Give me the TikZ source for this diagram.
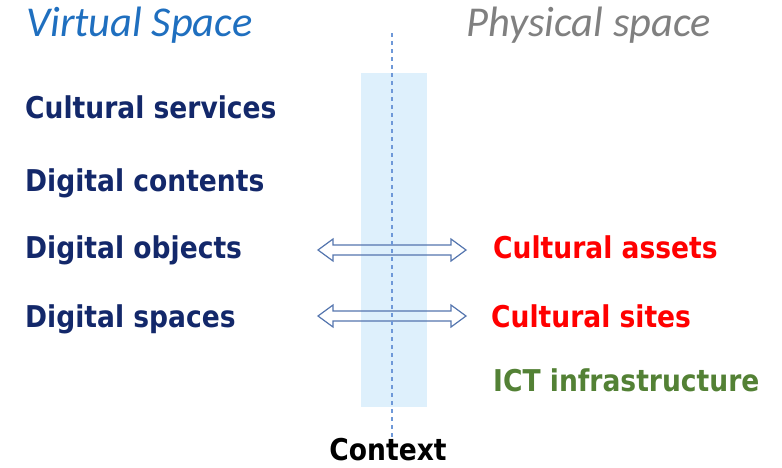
\documentclass[tikz,border=0pt]{standalone}
\usepackage{fontspec}
\setmainfont{Carlito}
\newfontfamily\labfont[FakeStretch=0.885]{DejaVu Sans}
\definecolor{titleblue}{HTML}{1F6FBF}
\definecolor{titlegray}{HTML}{808080}
\definecolor{navy}{HTML}{13286A}
\definecolor{redlab}{HTML}{FF0000}
\definecolor{greenlab}{HTML}{538135}
\definecolor{ctxfill}{HTML}{DEF0FC}
\definecolor{dashblue}{HTML}{6E98D8}
\definecolor{arrowblue}{HTML}{5475AE}
\tikzset{
  x=1pt, y=-1pt,
  title/.style={anchor=base west, inner sep=0pt, font=\fontsize{42.5}{42.5}\selectfont\itshape},
  lab/.style={anchor=base west, inner sep=0pt, font=\labfont\bfseries\fontsize{30}{30}\selectfont},
  dblarrow/.style={draw=arrowblue, line width=1.2pt, line join=miter},
}
\begin{document}
\begin{tikzpicture}
\useasboundingbox (0,0) rectangle (782,467);
% context band
\fill[ctxfill] (361,73) rectangle (427,407);
% titles
\node[title, text=titleblue] (virt) at (26,36) {Virtual Space};
\node[title, text=titlegray] (phys) at (466,36) {Physical space};
% left labels
\node[lab, text=navy] (serv) at (25,118.5) {Cultural services};
\node[lab, text=navy] (cont) at (25,191.5) {Digital contents};
\node[lab, text=navy] (obj) at (25,258) {Digital objects};
\node[lab, text=navy] (spc) at (25,327) {Digital spaces};
% right labels
\node[lab, text=redlab] (assets) at (493,258) {Cultural assets};
\node[lab, text=redlab] (sites) at (491,327) {Cultural sites};
\node[lab, text=greenlab] (ict) at (493,391.5) {ICT infrastructure};
\node[lab, text=black, anchor=base] (ctx) at (388,460) {Context};
% double arrows
\foreach \yy in {250,316}{
  \draw[dblarrow] (318,\yy) -- (333,\yy-11) -- (333,\yy-5) -- (451,\yy-5) -- (451,\yy-11)
     -- (466,\yy) -- (451,\yy+11) -- (451,\yy+5) -- (333,\yy+5) -- (333,\yy+11) -- cycle;
}
% dashed axis
\coordinate (axtop) at (392,33);
\coordinate (axbot) at (392,440);
\draw[dashblue, line width=1.6pt, dash pattern=on 4pt off 4pt] (axtop) -- (axbot);
\end{tikzpicture}
\end{document}
